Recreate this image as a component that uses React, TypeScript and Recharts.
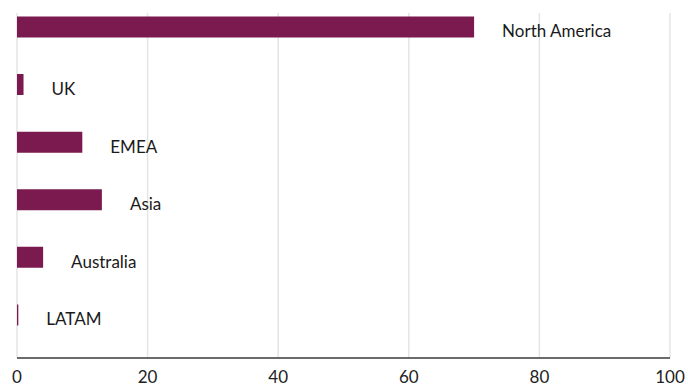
import React from "react";
import { BarChart, Bar, XAxis, YAxis, CartesianGrid, LabelList } from "recharts";

const regions = ["North America", "UK", "EMEA", "Asia", "Australia", "LATAM"];
const shares = [70, 1, 10, 13, 4, 0.2];
const xTicks = [0, 20, 40, 60, 80, 100];

const data = regions.map((name, i) => ({ name, value: shares[i] }));

const FONT = "Lato, 'DejaVu Sans', sans-serif";

function RegionLabel(props: any) {
  const { x, y, width, height, value } = props;
  return (
    <text
      x={Number(x) + Number(width) + 28}
      y={Number(y) + Number(height) / 2 + 4}
      dominantBaseline="central"
      fontSize={17}
      fontFamily={FONT}
      fill="#1a1a1a"
    >
      {value}
    </text>
  );
}

export default function App() {
  return (
    <div style={{ position: "absolute", left: 0, top: 0, background: "#fff" }}>
      <BarChart
        width={688}
        height={385}
        data={data}
        layout="vertical"
        margin={{ top: 13, right: 18, left: 17, bottom: 0 }}
      >
        <CartesianGrid horizontal={false} stroke="#e4e4e4" strokeWidth={1.5} />
        <XAxis
          type="number"
          domain={[0, 100]}
          ticks={xTicks}
          height={27}
          tickLine={false}
          tickSize={0}
          tickMargin={13}
          axisLine={{ stroke: "#3a3a3a", strokeWidth: 1.5 }}
          tick={{ fill: "#222", fontSize: 17, fontFamily: FONT }}
          interval={0}
        />
        <YAxis
          type="category"
          dataKey="name"
          width={0}
          tick={false}
          tickLine={false}
          axisLine={{ stroke: "#3a3a3a", strokeWidth: 1.5 }}
          padding={{ top: -14.6, bottom: 13.9 }}
        />
        <Bar dataKey="value" fill="#7b1a4e" barSize={21} isAnimationActive={false}>
          <LabelList dataKey="name" content={RegionLabel} />
        </Bar>
      </BarChart>
    </div>
  );
}
